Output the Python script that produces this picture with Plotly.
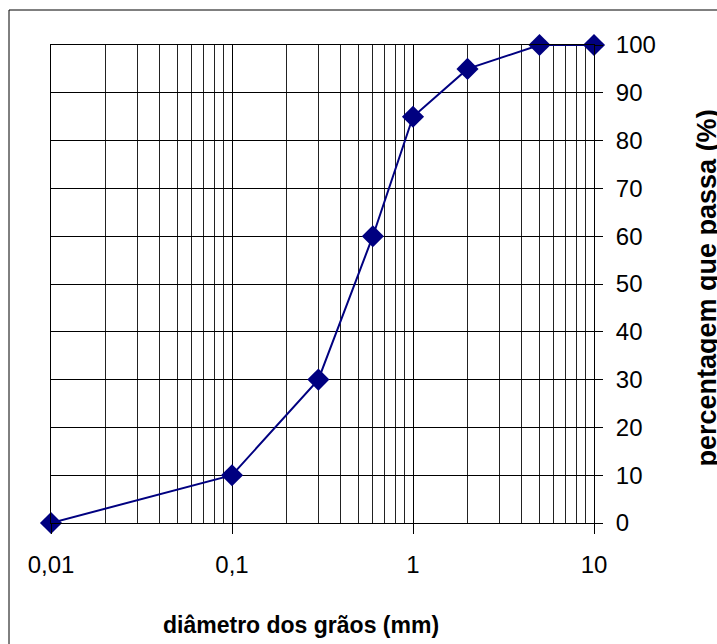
import plotly.graph_objects as go

diametro = [0.01, 0.1, 0.3, 0.6, 1, 2, 5, 10]
passa = [0, 10, 30, 60, 85, 95, 100, 100]
x_ticks = [0.01, 0.1, 1, 10]
x_tick_labels = ["0,01", "0,1", "1", "10"]
y_ticks = list(range(0, 101, 10))

W, H = 717, 644
L, R, T, B = 51, 594, 45, 523

def px(xp):
    return (xp - L) / (R - L)

def py(yp):
    return (B - yp) / (B - T)

fig = go.Figure()
fig.add_trace(go.Scatter(
    x=diametro, y=passa, mode="lines+markers",
    line=dict(color="#000080", width=2),
    marker=dict(symbol="diamond", size=17, color="#000080"),
    cliponaxis=False, showlegend=False))

font = "Liberation Sans, Arial, sans-serif"
fig.update_layout(
    width=W, height=H,
    margin=dict(l=L, r=W - R, t=T, b=H - B),
    paper_bgcolor="white", plot_bgcolor="white",
    font=dict(family=font, color="black", size=24),
    xaxis=dict(type="log", range=[-2, 1], tickvals=x_ticks, ticktext=x_tick_labels,
               showgrid=True, gridcolor="black", gridwidth=1,
               minor=dict(dtick="D1", showgrid=True, gridcolor="#222", gridwidth=1, ticks=""),
               ticks="outside", ticklen=10, tickcolor="black", tickwidth=1,
               showline=True, linecolor="black", mirror=True, zeroline=False,
               tickfont=dict(size=24), ticklabelstandoff=10),
    yaxis=dict(range=[0, 100], tickvals=y_ticks, side="right",
               showgrid=True, gridcolor="black", gridwidth=1,
               ticks="outside", ticklen=8, tickcolor="black", tickwidth=1,
               showline=True, linecolor="black", mirror=True, zeroline=False,
               tickfont=dict(size=24), ticklabelstandoff=8),
    shapes=[dict(type="rect", xref="paper", yref="paper",
                 x0=px(9), x1=px(740),
                 y0=py(680), y1=py(10),
                 line=dict(color="black", width=1), layer="below")],
    annotations=[
        dict(text="<b>diâmetro dos grãos (mm)</b>", xref="paper", yref="paper",
             x=px(300.5), y=py(625), showarrow=False,
             xanchor="center", yanchor="middle", font=dict(size=23)),
        dict(text="<b>percentagem que passa (%)</b>", xref="paper", yref="paper",
             x=px(706), y=py(288.5), showarrow=False,
             textangle=-90, xanchor="center", yanchor="middle", font=dict(size=27)),
    ],
)
fig.write_html(
    "out.html",
    config={"displayModeBar": False},
    post_script="document.body.style.margin='0';"
                "document.documentElement.style.overflow='hidden';"
                "document.body.style.overflow='hidden';",
)
